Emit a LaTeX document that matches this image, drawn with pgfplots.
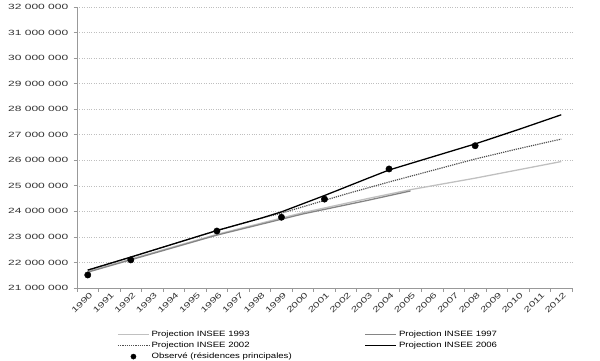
\documentclass[border=0pt]{standalone}
\usepackage{fontspec}
\setmainfont{Liberation Sans}[FakeStretch=1.25]
\usepackage{pgfplots}
\pgfplotsset{compat=1.18}
\definecolor{lgray}{HTML}{C0C0C0}
\definecolor{mgray}{HTML}{858585}
\definecolor{dgray}{HTML}{505050}
\definecolor{grid}{HTML}{B5B5B5}
\definecolor{axisgray}{HTML}{999999}
\newcommand{\sy}[1]{\scalebox{1.27}[1]{#1}}
\newcommand{\sx}[1]{\scalebox{1.2}[1]{#1}}
\begin{document}
\begin{tikzpicture}
\begin{axis}[
  scale only axis, width=495bp, height=281bp,
  xmin=1989.5, xmax=2012.5, ymin=21000000, ymax=32000000,
  axis x line=bottom, axis y line=left,
  axis line style={axisgray, line width=0.8pt, -},
  xtick={1990,...,2012},
  xticklabels={\sx{1990},\sx{1991},\sx{1992},\sx{1993},\sx{1994},\sx{1995},\sx{1996},\sx{1997},\sx{1998},\sx{1999},\sx{2000},\sx{2001},\sx{2002},\sx{2003},\sx{2004},\sx{2005},\sx{2006},\sx{2007},\sx{2008},\sx{2009},\sx{2010},\sx{2011},\sx{2012}},
  minor xtick={1989.5,1990.5,...,2012.5},
  major x tick style={opacity=0},
  minor x tick style={draw=axisgray, line width=0.7pt},
  minor tick length=3.5bp,
  xmajorgrids=false, xminorgrids=false, yminorgrids=false,
  ytick={21000000,22000000,...,32000000},
  yticklabels={\sy{21 000 000},\sy{22 000 000},\sy{23 000 000},\sy{24 000 000},\sy{25 000 000},\sy{26 000 000},\sy{27 000 000},\sy{28 000 000},\sy{29 000 000},\sy{30 000 000},\sy{31 000 000},\sy{32 000 000}},
  major y tick style={draw=axisgray, line width=0.7pt},
  major tick length=3.5bp,
  tick align=outside,
  ymajorgrids, major grid style={grid, dotted, line width=0.6pt},
  xticklabel style={rotate=45, anchor=north east, inner sep=1pt, font=\fontsize{7.8}{9}\selectfont, text=black!80, xshift=2bp},
  yticklabel style={inner sep=2pt, font=\fontsize{7.6}{9}\selectfont, text=black!80, xshift=-3bp},
  legend columns=2,
  legend cell align=left,
  legend style={draw=none, fill=none, at={(rel axis cs:0.081,-0.145)}, anchor=north west,
    font=\fontsize{7.7}{9}\selectfont, inner sep=0pt, row sep=0pt,
    /tikz/every even column/.append style={column sep=71bp}},
  legend image code/.code={\draw[#1] (0cm,0cm) -- (31bp,0cm);},
  clip=false,
]
\addplot[lgray, line width=1.3pt] coordinates {(1990,21650000)(1996,23100000)(2000,23950000)(2003,24500000)(2005,24850000)(2008,25300000)(2012,25950000)};
\addlegendentry{Projection INSEE 1993}
\addplot[mgray, line width=1.3pt] coordinates {(1990,21620000)(1996,23070000)(2000,23900000)(2003,24430000)(2005,24800000)};
\addlegendentry{Projection INSEE 1997}
\addplot[dgray, line width=1.2pt, densely dotted] coordinates {(1990,21700000)(1992,22210000)(1994,22730000)(1996,23250000)(1998,23720000)(1999,23930000)(2000,24180000)(2002,24680000)(2004,25150000)(2006,25600000)(2008,26050000)(2010,26450000)(2012,26830000)};
\addlegendentry{Projection INSEE 2002}
\addplot[black, line width=1.3pt] coordinates {(1990,21700000)(1992,22210000)(1994,22730000)(1996,23250000)(1998,23720000)(1999,23980000)(2001,24620000)(2003,25290000)(2004,25620000)(2006,26130000)(2008,26640000)(2010,27200000)(2012,27780000)};
\addlegendentry{Projection INSEE 2006}
\addplot[only marks, mark=*, mark size=3.2bp, black, legend image code/.code={\fill[black] (15.5bp,0cm) circle (2.6bp);}] coordinates {(1990,21510000)(1992,22100000)(1996,23230000)(1999,23770000)(2001,24480000)(2004,25660000)(2008,26570000)};
\addlegendentry{Observé (résidences principales)}
\end{axis}
\pgfresetboundingbox
\path[use as bounding box] (-77bp,-73bp) rectangle (523bp,288bp);
\end{tikzpicture}
\end{document}
